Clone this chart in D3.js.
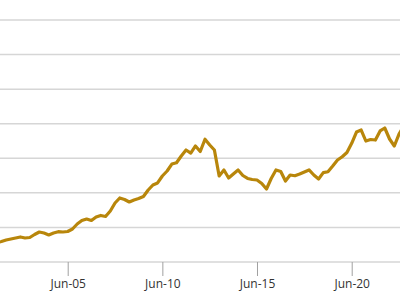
<!DOCTYPE html>
<html>
<head>
<meta charset="utf-8">
<script src="https://cdn.jsdelivr.net/npm/d3@7"></script>
<style>
  html, body { margin: 0; padding: 0; background: #fff; }
  #chart { width: 400px; height: 300px; overflow: hidden; }
  .grid line { stroke: #d6d6d6; stroke-width: 1.5; }
  .x-axis text { font-family: "Open Sans", sans-serif; font-size: 12px; fill: #333; }
</style>
</head>
<body>
<div id="chart"></div>
<script>
// quarterly readings, Jun-01 .. Mar-23
const startYear = 2001;   // first point is June 2001, then every 3 months
const values = [
  27.5, 28.2, 29.6, 31.8, 33.3, 34.7, 36.2, 34.7, 35.4, 39.8,
  43.4, 41.9, 39.1, 41.9, 43.8, 43.4, 44.1, 47.7, 55.0, 60.0,
  62.2, 60.0, 65.1, 67.3, 65.8, 73.8, 85.3, 92.6, 90.4, 86.8,
  89.7, 91.8, 94.7, 104.1, 111.4, 114.3, 124.4, 131.6, 141.7, 143.5,
  153.3, 162.0, 157.6, 167.8, 159.8, 177.5, 169.2, 162.0, 124.4, 133.1,
  121.5, 127.3, 133.1, 125.1, 120.8, 119.3, 118.6, 113.5, 105.6, 120.8,
  133.1, 130.9, 117.2, 125.8, 124.8, 127.3, 130.2, 133.1, 125.8, 120.0,
  129.2, 130.6, 138.8, 147.5, 152.3, 158.4, 171.7, 188.0, 190.9, 175.0,
  177.2, 176.4, 189.5, 193.8, 177.9, 167.8, 185.1, 196.7
];
const yTicks = [0, 50, 100, 150, 200, 250, 300, 350];
const xTickYears = [2005, 2010, 2015, 2020];

const data = values.map((v, i) => ({
  date: new Date(startYear, 5 + i * 3, 1),
  value: v
}));

const width = 400, height = 300;

const svg = d3.select("#chart")
  .append("svg")
  .attr("width", width)
  .attr("height", height);

// the plot is wider than the window, so the scales run past its edges
const x = d3.scaleTime()
  .domain([new Date(2005, 5, 1), new Date(2020, 5, 1)])
  .range([67.7, 351.7]);

const y = d3.scaleLinear()
  .domain([0, 350])
  .range([262, 20]);

// horizontal grid lines
svg.append("g")
  .attr("class", "grid")
  .selectAll("line")
  .data(yTicks)
  .join("line")
  .attr("x1", -40)
  .attr("x2", width + 40)
  .attr("y1", d => y(d))
  .attr("y2", d => y(d));

// x axis with ticks hanging below the baseline
const xAxis = d3.axisBottom(x)
  .tickValues(xTickYears.map(yr => new Date(yr, 5, 1)))
  .tickFormat(d3.timeFormat("%b-%y"))
  .tickSize(14)
  .tickPadding(3)
  .tickSizeOuter(0);

const gx = svg.append("g")
  .attr("class", "x-axis")
  .attr("transform", `translate(0, ${y(0)})`)
  .call(xAxis);

gx.select(".domain").remove();
gx.selectAll(".tick line").attr("stroke", "#a0a0a0").attr("stroke-width", 1);

// the series
const line = d3.line()
  .x(d => x(d.date))
  .y(d => y(d.value));

svg.append("path")
  .datum(data)
  .attr("fill", "none")
  .attr("stroke", "#b8860b")
  .attr("stroke-width", 3.2)
  .attr("stroke-linejoin", "round")
  .attr("stroke-linecap", "round")
  .attr("d", line);
</script>
</body>
</html>
